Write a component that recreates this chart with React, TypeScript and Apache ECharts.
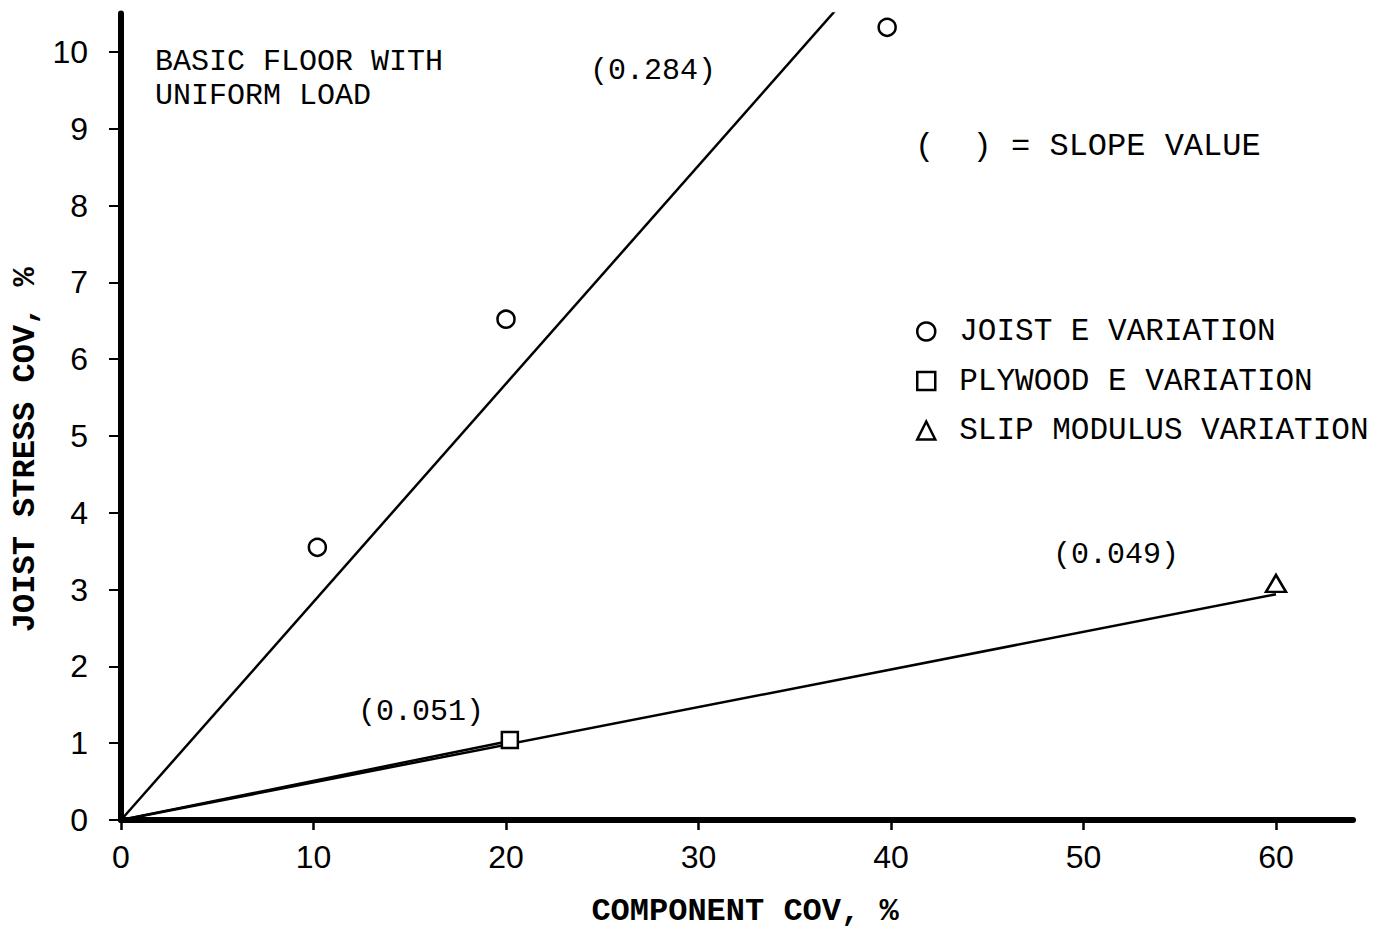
import React, { useEffect, useRef } from "react";
import * as echarts from "echarts";

// Axis ticks
const xTicks = [0, 10, 20, 30, 40, 50, 60];
const yTicks = [0, 1, 2, 3, 4, 5, 6, 7, 8, 9, 10];
const xMax = 64;
const yMax = 10.5;

// Observed points: [component COV %, joist stress COV %]
const joistE: number[][] = [
  [10.2, 3.55],
  [20.0, 6.52],
  [39.8, 10.32],
];
const plywoodE: number[][] = [[20.2, 1.04]];
const slipModulus: number[][] = [[60.0, 3.08]];

// Fitted slopes and the x range over which each fit line is drawn
const joistSlope = 0.284;
const plywoodSlope = 0.051;
const slipSlope = 0.049;
const joistFitRange = [0, 40];
const plywoodFitRange = [0, 20];
const slipFitRange = [0, 60];

const seriesNames = ["JOIST E VARIATION", "PLYWOOD E VARIATION", "SLIP MODULUS VARIATION"];

const MONO = "'Liberation Mono', 'DejaVu Sans Mono', monospace";
const SANS = "'Liberation Sans', Arial, sans-serif";

const fitLine = (slope: number, range: number[]) => range.map((x) => [x, slope * x]);

export default function App() {
  const ref = useRef<HTMLDivElement>(null);

  useEffect(() => {
    if (!ref.current) return;
    const chart = echarts.init(ref.current, undefined, { renderer: "svg" });

    const markerStyle = { color: "#fff", borderColor: "#000", borderWidth: 2.5, opacity: 1 };
    const lineStyle = { color: "#000", width: 2.5 };

    const lineSeries = (data: number[][]) => ({
      type: "line",
      data,
      showSymbol: false,
      silent: true,
      clip: true,
      lineStyle,
      z: 2,
    });

    const note = (text: string, left: number, top: number, size: number) => ({
      type: "text",
      left,
      top,
      style: { text, font: `${size}px ${MONO}`, fill: "#000" },
    });

    chart.setOption({
      animation: false,
      backgroundColor: "#fff",
      grid: { left: 121, right: 31, top: 13.5, bottom: 110, containLabel: false },
      xAxis: {
        type: "value",
        min: 0,
        max: xMax,
        name: "COMPONENT COV, %",
        nameLocation: "middle",
        nameGap: 75,
        nameTextStyle: {
          fontFamily: MONO,
          fontSize: 32,
          fontWeight: "bold",
          color: "#000",
          padding: [0, 0, 0, 16],
        },
        axisLine: { show: true, onZero: false, lineStyle: { color: "#000", width: 6 } },
        axisTick: {
          show: true,
          customValues: xTicks,
          length: 10,
          lineStyle: { color: "#000", width: 2.5 },
        },
        axisLabel: {
          customValues: xTicks,
          margin: 21,
          fontFamily: SANS,
          fontSize: 32,
          color: "#000",
        },
        splitLine: { show: false },
      },
      yAxis: {
        type: "value",
        min: 0,
        max: yMax,
        name: "JOIST STRESS COV, %",
        nameLocation: "middle",
        nameGap: 67,
        nameTextStyle: {
          fontFamily: MONO,
          fontSize: 32,
          fontWeight: "bold",
          color: "#000",
          padding: [0, 66, 0, 0],
        },
        axisLine: { show: true, onZero: false, lineStyle: { color: "#000", width: 6 } },
        axisTick: {
          show: true,
          customValues: yTicks,
          length: 12,
          lineStyle: { color: "#000", width: 2 },
        },
        axisLabel: {
          customValues: yTicks,
          margin: 33,
          fontFamily: SANS,
          fontSize: 32,
          color: "#000",
        },
        splitLine: { show: false },
      },
      legend: {
        orient: "vertical",
        left: 911,
        top: 311,
        itemWidth: 18,
        itemHeight: 18,
        itemGap: 18.5,
        data: [
          { name: seriesNames[0], icon: "circle" },
          { name: seriesNames[1], icon: "rect" },
          { name: seriesNames[2], icon: "triangle" },
        ],
        itemStyle: { color: "#fff", borderColor: "#000", borderWidth: 2.5, opacity: 1 },
        textStyle: {
          fontFamily: MONO,
          fontSize: 31,
          lineHeight: 30,
          color: "#000",
          padding: [0, 0, 0, 19],
        },
        selectedMode: false,
      },
      graphic: [
        note("BASIC FLOOR WITH", 155, 47, 30),
        note("UNIFORM LOAD", 155, 81, 30),
        note("(0.284)", 590, 56, 30),
        note("(  ) = SLOPE VALUE", 915, 130, 32),
        note("(0.049)", 1053, 540, 30),
        note("(0.051)", 358, 697, 30),
      ],
      series: [
        lineSeries(fitLine(joistSlope, joistFitRange)),
        lineSeries(fitLine(plywoodSlope, plywoodFitRange)),
        lineSeries(fitLine(slipSlope, slipFitRange)),
        {
          name: seriesNames[0],
          type: "scatter",
          data: joistE,
          symbol: "circle",
          symbolSize: 17,
          itemStyle: markerStyle,
          z: 3,
        },
        {
          name: seriesNames[1],
          type: "scatter",
          data: plywoodE,
          symbol: "rect",
          symbolSize: 16,
          itemStyle: markerStyle,
          z: 3,
        },
        {
          name: seriesNames[2],
          type: "scatter",
          data: slipModulus,
          symbol: "triangle",
          symbolSize: [20, 17],
          itemStyle: markerStyle,
          z: 3,
        },
      ],
    });

    return () => chart.dispose();
  }, []);

  return (
    <div
      ref={ref}
      style={{ position: "fixed", left: 0, top: 0, width: 1384, height: 932, background: "#fff" }}
    />
  );
}
